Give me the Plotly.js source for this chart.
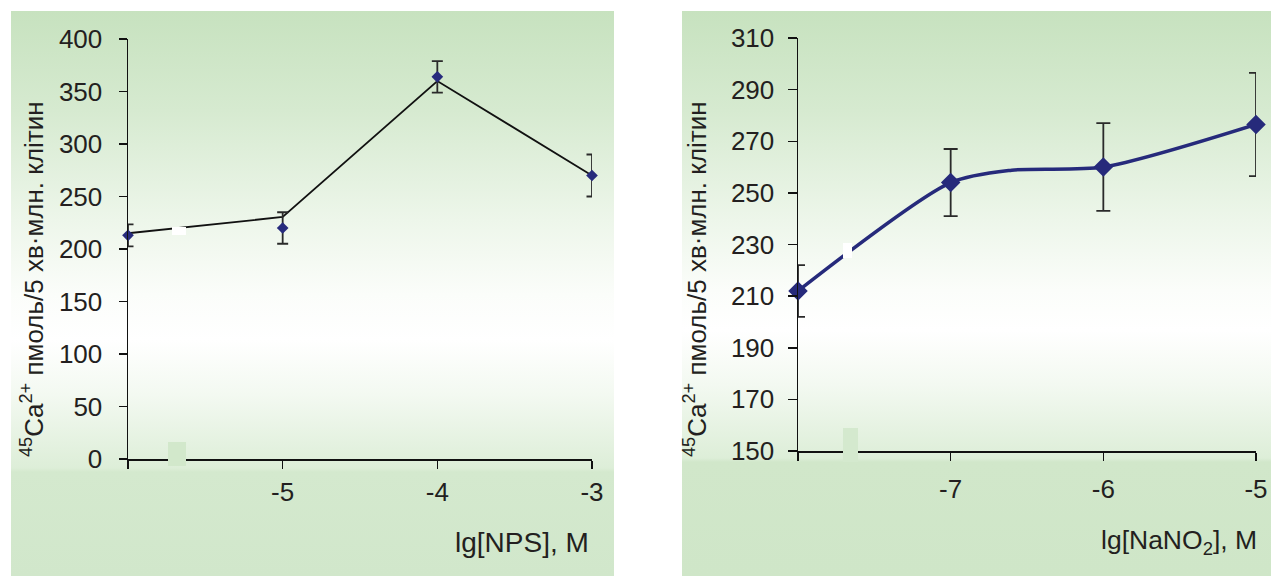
<!DOCTYPE html>
<html>
<head>
<meta charset="utf-8">
<script src="https://cdn.plot.ly/plotly-3.0.1.min.js"></script>
<style>html,body{margin:0;padding:0;background:#fff;}#chart{width:1271px;height:576px;}</style>
</head>
<body>
<div id="chart"></div>
<script>
// ---- data ----
const npsLg = [-6, -5, -4, -3];
const npsMean = [213, 220, 364, 270];
const npsErr = [10.5, 15, 15, 20];
const npsLineX = [-6, -5, -4, -3];
const npsLineY = [215, 230.5, 360, 270];
const npsTickVals = [-5, -4, -3];
const npsTickText = ['-5', '-4', '-3'];
const npsStartTick = [-6];

const nitLg = [-8, -7, -6, -5];
const nitMean = [212, 254, 260, 276.5];
const nitErr = [10, 13, 17, 20];
const nitLineX = [-8, -7, -6.6, -6, -5];
const nitLineY = [212, 254, 258.8, 260, 276.5];
const nitTickVals = [-7, -6, -5];
const nitTickText = ['-7', '-6', '-5'];
const nitStartTick = [-8];

// ---- geometry helpers ----
const W = 1271, H = 576;
const px = x => x / W;
const py = y => 1 - y / H;

// ---- background gradient panels ----
const cv = document.createElement('canvas');
cv.width = W; cv.height = H;
const ctx = cv.getContext('2d');
ctx.fillStyle = '#ffffff'; ctx.fillRect(0, 0, W, H);
function panel(x0, x1, y0, y1, stops) {
  const g = ctx.createLinearGradient(0, y0, 0, y1);
  stops.forEach(s => g.addColorStop((s[0] - y0) / (y1 - y0), s[1]));
  ctx.fillStyle = g; ctx.fillRect(x0, y0, x1 - x0, y1 - y0);
}
panel(11, 614, 11, 576, [[11,'#c7e2bf'],[110,'#d6ead0'],[220,'#edf6ea'],[295,'#fbfdfa'],[340,'#ffffff'],[395,'#f3f9f1'],[468,'#ddeed8'],[472,'#d4e9ce'],[576,'#d1e7cb']]);
panel(682, 1271, 11, 576, [[11,'#c7e2bf'],[110,'#d6ead0'],[220,'#edf6ea'],[290,'#fbfdfa'],[330,'#ffffff'],[385,'#f3f9f1'],[458,'#ddeed8'],[462,'#d1e7ca'],[576,'#cfe6c8']]);
const bg = cv.toDataURL('image/png');

const FONT = 'Liberation Sans, Arial, Helvetica, sans-serif';
const TXT = '#231f20';

const traces = [
  {x: npsLineX, y: npsLineY, mode: 'lines', line: {color: '#111111', width: 1.8}, xaxis: 'x', yaxis: 'y', cliponaxis: false, hoverinfo: 'skip'},
  {x: npsLg, y: npsMean, mode: 'markers', marker: {symbol: 'diamond', size: 9, color: '#272b7d'},
   error_y: {type: 'data', array: npsErr, visible: true, color: '#2a2a2a', thickness: 1.8, width: 5.5},
   xaxis: 'x', yaxis: 'y', cliponaxis: false},
  {x: nitLineX, y: nitLineY, mode: 'lines', line: {color: '#262a7b', width: 3.5, shape: 'spline', smoothing: 0.75}, xaxis: 'x2', yaxis: 'y2', cliponaxis: false, hoverinfo: 'skip'},
  {x: nitLg, y: nitMean, mode: 'markers', marker: {symbol: 'diamond', size: 15, color: '#262a7b'},
   error_y: {type: 'data', array: nitErr, visible: true, color: '#2a2a2a', thickness: 1.8, width: 7},
   xaxis: 'x2', yaxis: 'y2', cliponaxis: false}
];

const axBase = {showline: true, linecolor: '#111', linewidth: 1.5, ticks: 'outside', ticklen: 8, tickwidth: 1.5, tickcolor: '#111',
  showgrid: false, zeroline: false, tickfont: {family: FONT, size: 26, color: TXT}, fixedrange: true};
const minorTick = vals => ({tickmode: 'array', tickvals: vals, ticks: 'outside', ticklen: 8, tickwidth: 1.5, tickcolor: '#111', showgrid: false});

const layout = {
  width: W, height: H,
  margin: {l: 0, r: 0, t: 0, b: 0},
  paper_bgcolor: '#ffffff', plot_bgcolor: 'rgba(0,0,0,0)',
  showlegend: false,
  images: [{source: bg, xref: 'paper', yref: 'paper', x: 0, y: 1, sizex: 1, sizey: 1, xanchor: 'left', yanchor: 'top', sizing: 'stretch', layer: 'below'}],
  xaxis: Object.assign({}, axBase, {domain: [px(128), px(592)], range: [-6, -3], tickmode: 'array', tickvals: npsTickVals, ticktext: npsTickText, anchor: 'y', ticklabelstandoff: 1, minor: minorTick(npsStartTick)}),
  yaxis: Object.assign({}, axBase, {domain: [py(459), py(39)], range: [0, 400], dtick: 50, tick0: 0, anchor: 'x', ticklabelstandoff: 11}),
  xaxis2: Object.assign({}, axBase, {domain: [px(798), px(1256)], range: [-8, -5], tickmode: 'array', tickvals: nitTickVals, ticktext: nitTickText, anchor: 'y2', ticklabelstandoff: 6, minor: minorTick(nitStartTick)}),
  yaxis2: Object.assign({}, axBase, {domain: [py(451), py(38)], range: [150, 310], dtick: 20, tick0: 150, anchor: 'x2', ticklen: 9, ticklabelstandoff: 8}),
  shapes: [
    {type: 'rect', xref: 'paper', yref: 'paper', x0: px(168), x1: px(186), y0: py(466), y1: py(442), fillcolor: '#d2e8cb', line: {width: 0}, layer: 'above'},
    {type: 'rect', xref: 'paper', yref: 'paper', x0: px(843), x1: px(858), y0: py(462), y1: py(428), fillcolor: '#d4e9ce', line: {width: 0}, layer: 'above'},
    {type: 'rect', xref: 'paper', yref: 'paper', x0: px(172), x1: px(186), y0: py(235), y1: py(227), fillcolor: '#ffffff', line: {width: 0}, layer: 'above'},
    {type: 'rect', xref: 'paper', yref: 'paper', x0: px(843), x1: px(852), y0: py(258), y1: py(243), fillcolor: '#ffffff', line: {width: 0}, layer: 'above'}
  ],
  annotations: [
    {xref: 'paper', yref: 'paper', x: px(32), y: py(279), xanchor: 'center', yanchor: 'middle', textangle: -90, showarrow: false,
     text: '<sup>45</sup>Ca<sup>2+</sup> пмоль/5 хв·млн. клітин', font: {family: FONT, size: 26, color: TXT}},
    {xref: 'paper', yref: 'paper', x: px(695), y: py(279), xanchor: 'center', yanchor: 'middle', textangle: -90, showarrow: false,
     text: '<sup>45</sup>Ca<sup>2+</sup> пмоль/5 хв·млн. клітин', font: {family: FONT, size: 26, color: TXT}},
    {xref: 'paper', yref: 'paper', x: px(591), y: py(542), xanchor: 'right', yanchor: 'middle', showarrow: false,
     text: 'lg[NPS], M', font: {family: FONT, size: 28, color: TXT}},
    {xref: 'paper', yref: 'paper', x: px(1259), y: py(542), xanchor: 'right', yanchor: 'middle', showarrow: false,
     text: 'lg[NaNO<sub>2</sub>], M', font: {family: FONT, size: 26.5, color: TXT}}
  ]
};

Plotly.newPlot('chart', traces, layout, {displayModeBar: false, staticPlot: true});
</script>
</body>
</html>
